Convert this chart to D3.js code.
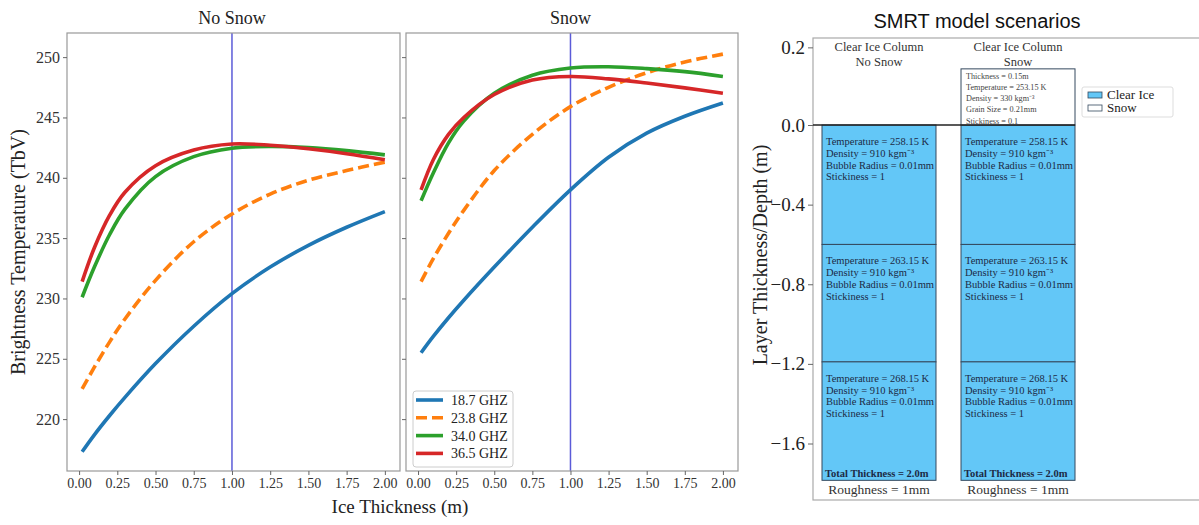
<!DOCTYPE html>
<html>
<head>
<meta charset="utf-8">
<script src="https://cdn.jsdelivr.net/npm/d3@7"></script>
<style>
  body { margin: 0; background: #fff; }
  svg { display: block; }
  .serif { font-family: "Liberation Serif", "Times New Roman", serif; }
  .sans { font-family: "Liberation Sans", Arial, sans-serif; }
</style>
</head>
<body>
<div id="chart"></div>
<script>
// ice thickness (m) sampled along each curve
var thickness = [0.02, 0.1, 0.2, 0.3, 0.5, 0.75, 1.0, 1.25, 1.5, 1.75, 2.0];

// brightness temperatures (K), no snow
var tb187NoSnow = [217.3, 218.7, 220.3, 221.8, 224.6, 227.7, 230.4, 232.6, 234.4, 235.9, 237.2];
var tb238NoSnow = [222.5, 224.3, 226.4, 228.3, 231.5, 234.7, 237.0, 238.65, 239.8, 240.6, 241.3];
var tb340NoSnow = [230.1, 232.6, 235.3, 237.4, 240.1, 241.75, 242.45, 242.6, 242.5, 242.25, 241.9];
var tb365NoSnow = [231.4, 234.2, 236.9, 238.8, 241.0, 242.3, 242.8, 242.7, 242.4, 242.0, 241.5];

// brightness temperatures (K), snow
var tb187Snow = [225.5, 226.85, 228.4, 229.85, 232.6, 235.9, 239.0, 241.7, 243.7, 245.1, 246.2];
var tb238Snow = [231.4, 233.3, 235.4, 237.3, 240.6, 243.6, 245.9, 247.5, 248.7, 249.6, 250.25];
var tb340Snow = [238.1, 240.4, 242.9, 244.7, 247.0, 248.5, 249.1, 249.2, 249.05, 248.8, 248.4];
var tb365Snow = [239.0, 241.5, 243.6, 245.0, 246.9, 248.1, 248.4, 248.2, 247.85, 247.45, 247.0];

var freqLabels = ["18.7 GHZ", "23.8 GHZ", "34.0 GHZ", "36.5 GHZ"];
var freqColors = ["#1f77b4", "#ff7f0e", "#2ca02c", "#d62728"];
var xTicks = [0, 0.25, 0.5, 0.75, 1.0, 1.25, 1.5, 1.75, 2.0];
var yTicks = [220, 225, 230, 235, 240, 245, 250];
var markerThickness = 1.0;

// SMRT scenario panel
var columnNames = ["Clear Ice Column|No Snow", "Clear Ice Column|Snow"];
var layerTops = [0, -0.6, -1.19];
var layerBottoms = [-0.6, -1.19, -1.785];
var layerTemps = ["258.15", "263.15", "268.15"];
var snowTop = 0.282;
var snowText = ["Thickness = 0.15m", "Temperature = 253.15 K", "Density = 330 kgm\u207B\u00B3", "Grain Size = 0.21mm", "Stickiness = 0.1"];
var depthTickValues = [0.39, 0, -0.4, -0.8, -1.2, -1.6];
var depthTickLabels = ["0.2", "0.0", "\u22120.4", "\u22120.8", "\u22121.2", "\u22121.6"];

var width = 1199, height = 525;
var svg = d3.select("#chart").append("svg").attr("width", width).attr("height", height);

var plotTop = 33, plotBottom = 471;
var y = d3.scaleLinear().domain([215.7, 252]).range([plotBottom, plotTop]);

var panels = [
    {x0: 67, x1: 400, title: "No Snow", series: [tb187NoSnow, tb238NoSnow, tb340NoSnow, tb365NoSnow], labels: true},
    {x0: 406, x1: 738, title: "Snow", series: [tb187Snow, tb238Snow, tb340Snow, tb365Snow], labels: false}
];

panels.forEach(function(p, pi) {
    var x = d3.scaleLinear().domain([-0.079, 2.099]).range([p.x0, p.x1]);
    var g = svg.append("g");

    // vertical reference line
    g.append("line")
        .attr("x1", x(markerThickness)).attr("x2", x(markerThickness))
        .attr("y1", plotTop).attr("y2", plotBottom)
        .attr("stroke", "#5b5bd8").attr("stroke-width", 1.5);

    var line = d3.line()
        .x(function(d, i) { return x(thickness[i]); })
        .y(function(d) { return y(d); })
        .curve(d3.curveCatmullRom.alpha(0.5));

    p.series.forEach(function(s, i) {
        g.append("path")
            .attr("d", line(s))
            .attr("fill", "none")
            .attr("stroke", freqColors[i])
            .attr("stroke-width", 3.6)
            .attr("stroke-dasharray", i == 1 ? "11,5" : null);
    });

    // frame
    g.append("rect")
        .attr("x", p.x0).attr("y", plotTop)
        .attr("width", p.x1 - p.x0).attr("height", plotBottom - plotTop)
        .attr("fill", "none").attr("stroke", "#999").attr("stroke-width", 1.2);

    var xAxis = g.append("g")
        .attr("transform", "translate(0," + plotBottom + ")")
        .call(d3.axisBottom(x).tickValues(xTicks).tickFormat(d3.format(".2f")).tickSize(4).tickPadding(3));
    xAxis.select(".domain").remove();
    xAxis.selectAll("line").attr("stroke", "#666");
    xAxis.selectAll("text").attr("class", "serif").attr("font-size", 14).attr("fill", "#333");

    var yAxis = g.append("g")
        .attr("transform", "translate(" + p.x0 + ",0)")
        .call(d3.axisLeft(y).tickValues(yTicks).tickSize(4).tickPadding(3)
            .tickFormat(p.labels ? d3.format("d") : ""));
    yAxis.select(".domain").remove();
    yAxis.selectAll("line").attr("stroke", "#666");
    yAxis.selectAll("text").attr("class", "serif").attr("font-size", 16).attr("fill", "#333");

    g.append("text")
        .attr("class", "serif")
        .attr("x", (x(0) + x(2)) / 2).attr("y", 24)
        .attr("text-anchor", "middle")
        .attr("font-size", 18).attr("fill", "#222")
        .text(p.title);

    // legend in the snow panel
    if (pi == 1) {
        var lg = g.append("g").attr("transform", "translate(413,391)");
        lg.append("rect")
            .attr("width", 100).attr("height", 76).attr("rx", 3)
            .attr("fill", "#fff").attr("fill-opacity", 0.85)
            .attr("stroke", "#ccc");
        freqLabels.forEach(function(lab, i) {
            var yy = 9 + i * 17.8;
            lg.append("line")
                .attr("x1", 3).attr("x2", 30).attr("y1", yy).attr("y2", yy)
                .attr("stroke", freqColors[i]).attr("stroke-width", 3.6)
                .attr("stroke-dasharray", i == 1 ? "11,5" : null);
            lg.append("text")
                .attr("class", "serif")
                .attr("x", 38).attr("y", yy + 5)
                .attr("font-size", 14).attr("fill", "#222")
                .text(lab);
        });
    }
});

svg.append("text")
    .attr("class", "serif")
    .attr("x", 400).attr("y", 513)
    .attr("text-anchor", "middle")
    .attr("font-size", 19).attr("fill", "#222")
    .text("Ice Thickness (m)");

svg.append("text")
    .attr("class", "serif")
    .attr("transform", "translate(25,252) rotate(-90)")
    .attr("text-anchor", "middle")
    .attr("font-size", 20).attr("fill", "#222")
    .text("Brightness Temperature (TbV)");

// ---- SMRT model scenarios ----
var rx0 = 813, rx1 = 1200, rTop = 38, rBottom = 500;
var yd = d3.scaleLinear().domain([0, -1.6]).range([125, 443.5]);
var xb = d3.scaleBand().domain(columnNames).range([822, 1075]).paddingInner(0.18).paddingOuter(0);

var rg = svg.append("g");
var iceFill = "#63c7f7", edge = "#34495e", textCol = "#1c2a45";

rg.append("text")
    .attr("class", "sans")
    .attr("x", 977).attr("y", 28)
    .attr("text-anchor", "middle")
    .attr("font-size", 20).attr("fill", "#111")
    .text("SMRT model scenarios");

rg.append("rect")
    .attr("x", rx0).attr("y", rTop)
    .attr("width", rx1 - rx0).attr("height", rBottom - rTop)
    .attr("fill", "none").attr("stroke", "#aaa").attr("stroke-width", 1.2);

columnNames.forEach(function(name, ci) {
    var cx = xb(name), bw = xb.bandwidth();
    var parts = name.split("|");

    parts.forEach(function(t, k) {
        rg.append("text")
            .attr("class", "serif")
            .attr("x", cx + bw / 2).attr("y", 51 + k * 15)
            .attr("text-anchor", "middle")
            .attr("font-size", 12.5).attr("fill", "#333")
            .text(t);
    });

    layerTops.forEach(function(t, li) {
        rg.append("rect")
            .attr("x", cx).attr("y", yd(t))
            .attr("width", bw).attr("height", yd(layerBottoms[li]) - yd(t))
            .attr("fill", iceFill).attr("stroke", edge).attr("stroke-width", 1);
        var lines = ["Temperature = " + layerTemps[li] + " K", "Density = 910 kgm\u207B\u00B3",
                     "Bubble Radius = 0.01mm", "Stickiness = 1"];
        lines.forEach(function(s, k) {
            rg.append("text")
                .attr("class", "serif")
                .attr("x", cx + 4).attr("y", yd(t) + 20 + k * 11.8)
                .attr("font-size", 10.5).attr("fill", textCol)
                .text(s);
        });
    });

    rg.append("text")
        .attr("class", "serif")
        .attr("x", cx + 3).attr("y", yd(layerBottoms[2]) - 3)
        .attr("font-size", 10.5).attr("font-weight", "bold").attr("fill", textCol)
        .text("Total Thickness = 2.0m");

    rg.append("text")
        .attr("class", "serif")
        .attr("x", cx + bw / 2).attr("y", yd(layerBottoms[2]) + 14)
        .attr("text-anchor", "middle")
        .attr("font-size", 13.5).attr("fill", "#333")
        .text("Roughness = 1mm");

    if (ci == 1) {
        rg.append("rect")
            .attr("x", cx).attr("y", yd(snowTop))
            .attr("width", bw).attr("height", yd(0) - yd(snowTop))
            .attr("fill", "#fff").attr("stroke", edge).attr("stroke-width", 1);
        snowText.forEach(function(s, k) {
            rg.append("text")
                .attr("class", "serif")
                .attr("x", cx + 5).attr("y", yd(snowTop) + 10 + k * 11.2)
                .attr("font-size", 8.2).attr("fill", "#444")
                .text(s);
        });
    }
});

// surface line at depth 0
rg.append("line")
    .attr("x1", rx0).attr("x2", xb(columnNames[1]) + xb.bandwidth())
    .attr("y1", yd(0)).attr("y2", yd(0))
    .attr("stroke", "#222").attr("stroke-width", 1.3);

var dAxis = rg.append("g")
    .attr("transform", "translate(" + rx0 + ",0)")
    .call(d3.axisLeft(yd).tickValues(depthTickValues).tickSize(5).tickPadding(3)
        .tickFormat(function(d, i) { return depthTickLabels[i]; }));
dAxis.select(".domain").remove();
dAxis.selectAll("line").attr("stroke", "#666");
dAxis.selectAll("text").attr("class", "serif").attr("font-size", 19).attr("fill", "#222");

rg.append("text")
    .attr("class", "serif")
    .attr("transform", "translate(767,255) rotate(-90)")
    .attr("text-anchor", "middle")
    .attr("font-size", 20).attr("fill", "#222")
    .text("Layer Thickness/Depth (m)");

// legend
var rl = rg.append("g").attr("transform", "translate(1082,87)");
rl.append("rect")
    .attr("width", 91).attr("height", 30).attr("rx", 2)
    .attr("fill", "#fff").attr("stroke", "#ddd");
[["Clear Ice", iceFill], ["Snow", "#fff"]].forEach(function(e, i) {
    rl.append("rect")
        .attr("x", 6).attr("y", 5 + i * 13).attr("width", 14).attr("height", 6)
        .attr("fill", e[1]).attr("stroke", edge).attr("stroke-width", 0.8);
    rl.append("text")
        .attr("class", "serif")
        .attr("x", 25).attr("y", 12 + i * 13)
        .attr("font-size", 13).attr("fill", "#222")
        .text(e[0]);
});
</script>
</body>
</html>
